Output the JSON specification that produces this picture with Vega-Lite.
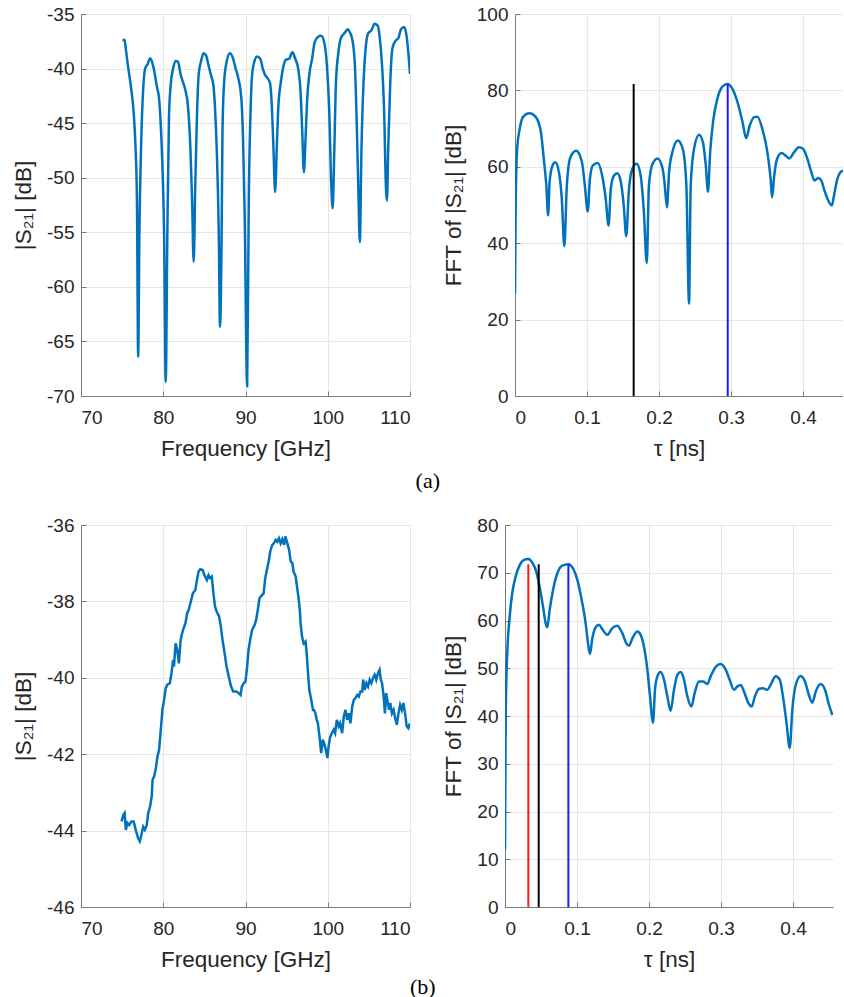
{
  "$schema": "https://vega.github.io/schema/vega-lite/v6.json",
  "padding": {"left": 12, "top": 5, "right": 0, "bottom": 0},
  "background": "white",
  "config": {
    "view": {"stroke": null},
    "axis": {
      "labelFont": "Liberation Sans",
      "titleFont": "Liberation Sans",
      "labelFontSize": 19,
      "titleFontSize": 22.5,
      "titleFontWeight": "normal",
      "labelColor": "#262626",
      "titleColor": "#262626",
      "domainColor": "#7a7a7a",
      "domainWidth": 1,
      "tickColor": "#7a7a7a",
      "tickSize": -5,
      "gridColor": "#e6e6e6",
      "gridWidth": 1,
      "labelExpr": "'' + datum.value"
    },
    "axisX": {"labelPadding": 17, "titlePadding": 10},
    "axisY": {"labelPadding": 12, "titlePadding": 11},
    "title": {"font": "Liberation Serif", "fontSize": 22, "fontWeight": "normal", "color": "#000000"}
  },
  "datasets": {
    "s21a": [
      {"f":75.04,"v":-37.35},{"f":75.3,"v":-37.4},{"f":75.45,"v":-38.2},{"f":75.7,"v":-39.7},{"f":76.05,"v":-41.55},{"f":76.4,"v":-44.0},{"f":76.6,"v":-46.7},{"f":76.8,"v":-51.9},{"f":76.95,"v":-66.4},{"f":77.1,"v":-55},{"f":77.3,"v":-47.3},{"f":77.5,"v":-42.8},{"f":77.8,"v":-40.0},{"f":78.1,"v":-39.6},{"f":78.4,"v":-39.05},{"f":78.6,"v":-39.3},{"f":78.9,"v":-40.2},{"f":79.2,"v":-41.55},{"f":79.5,"v":-42.8},{"f":79.7,"v":-45.2},{"f":79.9,"v":-48.9},{"f":80.1,"v":-55},{"f":80.3,"v":-68.7},{"f":80.5,"v":-55},{"f":80.7,"v":-44.3},{"f":80.9,"v":-41.55},{"f":81.2,"v":-40.0},{"f":81.5,"v":-39.3},{"f":81.8,"v":-39.4},{"f":82.1,"v":-40.5},{"f":82.4,"v":-41.25},{"f":82.7,"v":-42.0},{"f":83.0,"v":-43.4},{"f":83.3,"v":-47.3},{"f":83.5,"v":-51.9},{"f":83.7,"v":-57.7},{"f":83.9,"v":-50.4},{"f":84.1,"v":-44.3},{"f":84.3,"v":-40.6},{"f":84.6,"v":-39.3},{"f":84.9,"v":-38.6},{"f":85.2,"v":-38.8},{"f":85.5,"v":-39.7},{"f":85.8,"v":-40.6},{"f":86.1,"v":-41.55},{"f":86.3,"v":-43.7},{"f":86.5,"v":-47.3},{"f":86.75,"v":-55},{"f":86.9,"v":-63.65},{"f":87.1,"v":-55},{"f":87.2,"v":-45.8},{"f":87.4,"v":-41.25},{"f":87.7,"v":-39.4},{"f":88.1,"v":-38.6},{"f":88.45,"v":-39.0},{"f":88.8,"v":-40.0},{"f":89.1,"v":-40.8},{"f":89.5,"v":-42.8},{"f":89.7,"v":-46.4},{"f":89.9,"v":-53.4},{"f":90.2,"v":-69.1},{"f":90.4,"v":-51.9},{"f":90.6,"v":-44.3},{"f":90.8,"v":-40.6},{"f":91.1,"v":-39.3},{"f":91.4,"v":-38.9},{"f":91.8,"v":-39.1},{"f":92.1,"v":-40.0},{"f":92.4,"v":-40.6},{"f":92.7,"v":-40.9},{"f":93.0,"v":-41.4},{"f":93.2,"v":-43.4},{"f":93.4,"v":-47.3},{"f":93.6,"v":-51.3},{"f":93.8,"v":-47.3},{"f":94.0,"v":-43.4},{"f":94.3,"v":-41.25},{"f":94.55,"v":-40.0},{"f":94.9,"v":-39.2},{"f":95.3,"v":-39.1},{"f":95.7,"v":-38.5},{"f":96.05,"v":-39.1},{"f":96.4,"v":-40.0},{"f":96.7,"v":-42.2},{"f":96.9,"v":-45.8},{"f":97.1,"v":-49.5},{"f":97.3,"v":-46.4},{"f":97.5,"v":-42.8},{"f":97.8,"v":-40.3},{"f":98.1,"v":-39.1},{"f":98.4,"v":-37.6},{"f":98.8,"v":-37.1},{"f":99.2,"v":-37.0},{"f":99.6,"v":-37.7},{"f":99.9,"v":-39.7},{"f":100.2,"v":-44.3},{"f":100.4,"v":-50.1},{"f":100.6,"v":-52.8},{"f":100.8,"v":-47.35},{"f":101.0,"v":-41.25},{"f":101.3,"v":-38.5},{"f":101.6,"v":-37.2},{"f":102.1,"v":-36.7},{"f":102.4,"v":-36.4},{"f":102.7,"v":-36.7},{"f":103.0,"v":-37.4},{"f":103.3,"v":-39.7},{"f":103.5,"v":-44.3},{"f":103.7,"v":-50.4},{"f":103.9,"v":-55.9},{"f":104.1,"v":-47.35},{"f":104.35,"v":-41.25},{"f":104.6,"v":-38.2},{"f":104.9,"v":-36.8},{"f":105.3,"v":-36.5},{"f":105.7,"v":-35.9},{"f":106.1,"v":-36.1},{"f":106.3,"v":-37.0},{"f":106.6,"v":-39.7},{"f":106.9,"v":-45.2},{"f":107.0,"v":-48.9},{"f":107.2,"v":-52.1},{"f":107.35,"v":-47.35},{"f":107.6,"v":-41.25},{"f":107.85,"v":-38.2},{"f":108.2,"v":-37.5},{"f":108.6,"v":-37.2},{"f":108.9,"v":-36.4},{"f":109.3,"v":-36.2},{"f":109.6,"v":-37.1},{"f":110.0,"v":-40.5}
    ],
    "ffta": [
      {"t":0,"v":26.8},{"t":0.001,"v":51.6},{"t":0.003,"v":64.7},{"t":0.0065,"v":69.9},{"t":0.011,"v":73.0},{"t":0.020,"v":74.0},{"t":0.029,"v":73.0},{"t":0.036,"v":69.0},{"t":0.040,"v":62.1},{"t":0.0435,"v":55.1},{"t":0.046,"v":47.3},{"t":0.048,"v":56.0},{"t":0.052,"v":60.3},{"t":0.056,"v":61.2},{"t":0.061,"v":58.6},{"t":0.065,"v":51.6},{"t":0.0685,"v":39.2},{"t":0.072,"v":55.1},{"t":0.077,"v":62.5},{"t":0.085,"v":64.2},{"t":0.093,"v":61.2},{"t":0.097,"v":55.1},{"t":0.101,"v":48.3},{"t":0.104,"v":56.8},{"t":0.108,"v":60.3},{"t":0.115,"v":61.0},{"t":0.121,"v":57.7},{"t":0.126,"v":51.6},{"t":0.130,"v":44.6},{"t":0.133,"v":54.2},{"t":0.1375,"v":57.7},{"t":0.142,"v":58.3},{"t":0.147,"v":56.0},{"t":0.151,"v":49.9},{"t":0.1545,"v":41.8},{"t":0.158,"v":53.4},{"t":0.163,"v":59.5},{"t":0.169,"v":60.8},{"t":0.1745,"v":57.7},{"t":0.179,"v":48.1},{"t":0.183,"v":34.8},{"t":0.186,"v":55.1},{"t":0.191,"v":60.8},{"t":0.198,"v":62.2},{"t":0.205,"v":59.5},{"t":0.208,"v":55.1},{"t":0.211,"v":49.4},{"t":0.214,"v":58.6},{"t":0.2185,"v":63.8},{"t":0.226,"v":66.9},{"t":0.233,"v":64.7},{"t":0.238,"v":55.1},{"t":0.2417,"v":24.2},{"t":0.244,"v":55.1},{"t":0.2486,"v":64.7},{"t":0.2556,"v":68.4},{"t":0.261,"v":66.4},{"t":0.265,"v":60.3},{"t":0.268,"v":53.5},{"t":0.271,"v":63.8},{"t":0.275,"v":71.7},{"t":0.281,"v":77.8},{"t":0.288,"v":81.0},{"t":0.295,"v":81.7},{"t":0.302,"v":80.4},{"t":0.309,"v":76.9},{"t":0.316,"v":71.7},{"t":0.321,"v":67.5},{"t":0.326,"v":70.8},{"t":0.332,"v":73.0},{"t":0.3366,"v":73.1},{"t":0.3435,"v":69.9},{"t":0.3505,"v":63.8},{"t":0.355,"v":56.8},{"t":0.357,"v":52.0},{"t":0.360,"v":57.7},{"t":0.364,"v":62.1},{"t":0.370,"v":63.6},{"t":0.376,"v":62.9},{"t":0.381,"v":62.2},{"t":0.3875,"v":63.8},{"t":0.394,"v":65.1},{"t":0.400,"v":64.7},{"t":0.406,"v":62.1},{"t":0.4115,"v":58.6},{"t":0.416,"v":56.4},{"t":0.421,"v":57.1},{"t":0.4255,"v":56.4},{"t":0.429,"v":54.2},{"t":0.434,"v":51.6},{"t":0.440,"v":49.9},{"t":0.443,"v":52.5},{"t":0.4477,"v":56.8},{"t":0.452,"v":58.6},{"t":0.4556,"v":59.0}
    ],
    "marka": [
      {"t":0.1648,"top":81.7,"c":"black"},
      {"t":0.2954,"top":81.7,"c":"blue"}
    ],
    "s21b": [
      {"f":74.92,"v":-43.76},{"f":75.16,"v":-43.58},{"f":75.3,"v":-43.54},{"f":75.45,"v":-43.98},{"f":75.65,"v":-43.8},{"f":75.85,"v":-43.85},{"f":76.14,"v":-43.76},{"f":76.4,"v":-43.76},{"f":76.7,"v":-44.02},{"f":76.95,"v":-44.2},{"f":77.15,"v":-44.28},{"f":77.35,"v":-44.1},{"f":77.56,"v":-43.9},{"f":77.76,"v":-43.98},{"f":78.0,"v":-43.85},{"f":78.17,"v":-43.54},{"f":78.4,"v":-43.37},{"f":78.6,"v":-43.1},{"f":78.7,"v":-42.67},{"f":78.9,"v":-42.58},{"f":79.1,"v":-42.36},{"f":79.3,"v":-42.06},{"f":79.5,"v":-41.88},{"f":79.7,"v":-41.36},{"f":79.9,"v":-40.84},{"f":80.1,"v":-40.58},{"f":80.3,"v":-40.27},{"f":80.5,"v":-40.18},{"f":80.8,"v":-40.14},{"f":81.0,"v":-39.88},{"f":81.2,"v":-39.53},{"f":81.3,"v":-39.71},{"f":81.5,"v":-39.1},{"f":81.7,"v":-39.27},{"f":81.9,"v":-39.62},{"f":82.1,"v":-39.05},{"f":82.2,"v":-38.92},{"f":82.4,"v":-38.75},{"f":82.7,"v":-38.57},{"f":82.9,"v":-38.31},{"f":83.1,"v":-38.22},{"f":83.3,"v":-38.05},{"f":83.6,"v":-37.79},{"f":83.9,"v":-37.7},{"f":84.1,"v":-37.44},{"f":84.3,"v":-37.22},{"f":84.5,"v":-37.16},{"f":84.8,"v":-37.18},{"f":85.0,"v":-37.31},{"f":85.3,"v":-37.44},{"f":85.5,"v":-37.31},{"f":85.7,"v":-37.39},{"f":85.9,"v":-37.35},{"f":86.1,"v":-37.79},{"f":86.3,"v":-38.14},{"f":86.5,"v":-38.27},{"f":86.8,"v":-38.4},{"f":87.0,"v":-38.66},{"f":87.2,"v":-39.0},{"f":87.4,"v":-39.27},{"f":87.7,"v":-39.71},{"f":87.97,"v":-39.97},{"f":88.25,"v":-40.23},{"f":88.5,"v":-40.36},{"f":88.9,"v":-40.36},{"f":89.1,"v":-40.39},{"f":89.4,"v":-40.45},{"f":89.55,"v":-40.23},{"f":89.8,"v":-40.14},{"f":90.0,"v":-40.1},{"f":90.2,"v":-39.71},{"f":90.37,"v":-39.27},{"f":90.57,"v":-39.0},{"f":90.8,"v":-38.75},{"f":91.1,"v":-38.62},{"f":91.3,"v":-38.48},{"f":91.5,"v":-38.22},{"f":91.7,"v":-37.92},{"f":91.9,"v":-37.86},{"f":92.2,"v":-37.79},{"f":92.4,"v":-37.39},{"f":92.6,"v":-37.18},{"f":92.85,"v":-36.92},{"f":93.0,"v":-36.7},{"f":93.25,"v":-36.52},{"f":93.45,"v":-36.48},{"f":93.66,"v":-36.39},{"f":93.86,"v":-36.44},{"f":94.07,"v":-36.35},{"f":94.27,"v":-36.48},{"f":94.47,"v":-36.37},{"f":94.7,"v":-36.52},{"f":94.84,"v":-36.3},{"f":95.04,"v":-36.44},{"f":95.3,"v":-36.65},{"f":95.5,"v":-36.96},{"f":95.7,"v":-37.0},{"f":95.85,"v":-37.22},{"f":96.1,"v":-37.35},{"f":96.26,"v":-37.61},{"f":96.46,"v":-37.92},{"f":96.6,"v":-38.22},{"f":96.7,"v":-38.57},{"f":96.87,"v":-38.92},{"f":97.07,"v":-39.1},{"f":97.3,"v":-39.05},{"f":97.44,"v":-39.36},{"f":97.6,"v":-39.88},{"f":97.76,"v":-40.32},{"f":98.0,"v":-40.58},{"f":98.2,"v":-40.84},{"f":98.33,"v":-40.84},{"f":98.5,"v":-40.93},{"f":98.66,"v":-41.1},{"f":98.8,"v":-41.19},{"f":99.0,"v":-41.54},{"f":99.2,"v":-41.97},{"f":99.4,"v":-41.62},{"f":99.55,"v":-41.71},{"f":99.76,"v":-41.88},{"f":99.96,"v":-42.1},{"f":100.1,"v":-41.8},{"f":100.3,"v":-41.54},{"f":100.5,"v":-41.45},{"f":100.73,"v":-41.36},{"f":100.9,"v":-41.45},{"f":101.1,"v":-41.1},{"f":101.34,"v":-41.27},{"f":101.5,"v":-41.19},{"f":101.75,"v":-41.45},{"f":101.95,"v":-41.01},{"f":102.15,"v":-40.84},{"f":102.36,"v":-41.1},{"f":102.56,"v":-40.93},{"f":102.76,"v":-41.19},{"f":102.97,"v":-40.75},{"f":103.17,"v":-40.58},{"f":103.37,"v":-40.53},{"f":103.58,"v":-40.45},{"f":103.78,"v":-40.49},{"f":103.98,"v":-40.36},{"f":104.2,"v":-40.36},{"f":104.3,"v":-40.05},{"f":104.5,"v":-40.32},{"f":104.7,"v":-40.14},{"f":104.9,"v":-40.23},{"f":105.1,"v":-40.05},{"f":105.3,"v":-40.14},{"f":105.5,"v":-40.01},{"f":105.7,"v":-39.92},{"f":105.9,"v":-40.05},{"f":106.1,"v":-39.88},{"f":106.3,"v":-39.79},{"f":106.45,"v":-40.05},{"f":106.6,"v":-40.14},{"f":106.8,"v":-40.49},{"f":106.95,"v":-40.93},{"f":107.1,"v":-40.4},{"f":107.3,"v":-40.66},{"f":107.45,"v":-40.84},{"f":107.6,"v":-40.66},{"f":107.8,"v":-40.93},{"f":108.0,"v":-40.84},{"f":108.2,"v":-41.06},{"f":108.4,"v":-41.23},{"f":108.6,"v":-40.93},{"f":108.8,"v":-40.71},{"f":109.0,"v":-40.84},{"f":109.2,"v":-40.66},{"f":109.4,"v":-40.93},{"f":109.6,"v":-41.27},{"f":109.8,"v":-41.32},{"f":110.0,"v":-41.19}
    ],
    "fftb": [
      {"t":0,"v":12.0},{"t":0.0005,"v":27.3},{"t":0.001,"v":39.9},{"t":0.002,"v":48.3},{"t":0.0037,"v":55.2},{"t":0.0065,"v":60.8},{"t":0.010,"v":65.7},{"t":0.0148,"v":69.2},{"t":0.0204,"v":71.6},{"t":0.0264,"v":72.7},{"t":0.0324,"v":72.9},{"t":0.038,"v":72.1},{"t":0.0435,"v":70.2},{"t":0.048,"v":67.1},{"t":0.0528,"v":62.9},{"t":0.0565,"v":59.4},{"t":0.0588,"v":58.6},{"t":0.062,"v":62.2},{"t":0.0667,"v":66.4},{"t":0.0727,"v":69.9},{"t":0.0796,"v":71.5},{"t":0.088,"v":71.8},{"t":0.0944,"v":70.9},{"t":0.1005,"v":68.5},{"t":0.1065,"v":64.3},{"t":0.112,"v":59.4},{"t":0.1153,"v":55.2},{"t":0.118,"v":53.0},{"t":0.1213,"v":56.3},{"t":0.126,"v":58.6},{"t":0.1306,"v":59.1},{"t":0.135,"v":58.2},{"t":0.142,"v":57.0},{"t":0.149,"v":58.4},{"t":0.156,"v":58.9},{"t":0.163,"v":57.3},{"t":0.1685,"v":55.2},{"t":0.172,"v":54.7},{"t":0.177,"v":56.3},{"t":0.1838,"v":57.7},{"t":0.1884,"v":57.0},{"t":0.193,"v":54.5},{"t":0.1977,"v":49.7},{"t":0.2014,"v":44.1},{"t":0.2056,"v":38.6},{"t":0.2083,"v":45.5},{"t":0.2116,"v":48.3},{"t":0.2162,"v":49.2},{"t":0.2208,"v":47.6},{"t":0.2255,"v":44.1},{"t":0.230,"v":41.1},{"t":0.2347,"v":45.5},{"t":0.2394,"v":48.6},{"t":0.244,"v":49.2},{"t":0.2486,"v":47.6},{"t":0.2532,"v":44.1},{"t":0.2588,"v":42.0},{"t":0.2634,"v":44.8},{"t":0.2694,"v":47.2},{"t":0.275,"v":47.2},{"t":0.281,"v":46.7},{"t":0.2856,"v":48.3},{"t":0.2926,"v":50.3},{"t":0.2995,"v":50.9},{"t":0.3065,"v":49.7},{"t":0.312,"v":47.6},{"t":0.318,"v":45.5},{"t":0.3227,"v":46.2},{"t":0.3273,"v":46.5},{"t":0.332,"v":45.1},{"t":0.338,"v":42.7},{"t":0.3426,"v":42.0},{"t":0.347,"v":44.1},{"t":0.3528,"v":45.7},{"t":0.3583,"v":45.8},{"t":0.3644,"v":45.5},{"t":0.370,"v":46.9},{"t":0.376,"v":48.3},{"t":0.3815,"v":47.6},{"t":0.386,"v":44.1},{"t":0.391,"v":38.5},{"t":0.3954,"v":33.3},{"t":0.399,"v":41.3},{"t":0.4037,"v":46.5},{"t":0.4106,"v":48.4},{"t":0.4167,"v":47.2},{"t":0.422,"v":44.4},{"t":0.4268,"v":42.8},{"t":0.4315,"v":45.1},{"t":0.4384,"v":46.7},{"t":0.4444,"v":45.5},{"t":0.450,"v":42.3},{"t":0.4546,"v":40.2}
    ],
    "markb": [
      {"t":0.0324,"top":71.8,"c":"red"},
      {"t":0.0468,"top":71.8,"c":"black"},
      {"t":0.088,"top":71.8,"c":"blue"}
    ]
  },
  "spacing": 24,
  "vconcat": [
    {
      "title": {"text": "(a)", "orient": "bottom", "anchor": "middle", "offset": 11},
      "spacing": 31,
      "hconcat": [
        {
          "width": 329, "height": 382,
          "data": {"name": "s21a"},
          "mark": {"type": "line", "color": "#0072BD", "strokeWidth": 2.5, "clip": true, "interpolate": "monotone"},
          "encoding": {
            "x": {"field": "f", "type": "quantitative", "title": "Frequency [GHz]",
                  "scale": {"domain": [70, 110], "nice": false, "zero": false},
                  "axis": {"values": [70, 80, 90, 100, 110]}},
            "y": {"field": "v", "type": "quantitative", "title": "|S₂₁| [dB]",
                  "scale": {"domain": [-70, -35], "nice": false, "zero": false},
                  "axis": {"values": [-70, -65, -60, -55, -50, -45, -40, -35]}}
          }
        },
        {
          "width": 328, "height": 382,
          "layer": [
            {
              "data": {"name": "ffta"},
              "mark": {"type": "line", "color": "#0072BD", "strokeWidth": 2.5, "clip": true, "interpolate": "monotone"},
              "encoding": {
                "x": {"field": "t", "type": "quantitative", "title": "τ [ns]",
                      "scale": {"domain": [0, 0.4555], "nice": false, "zero": false},
                      "axis": {"values": [0, 0.1, 0.2, 0.3, 0.4]}},
                "y": {"field": "v", "type": "quantitative", "title": "FFT of |S₂₁| [dB]",
                      "scale": {"domain": [0, 100], "nice": false},
                      "axis": {"values": [0, 20, 40, 60, 80, 100]}}
              }
            },
            {
              "data": {"name": "marka"},
              "mark": {"type": "rule", "strokeWidth": 2},
              "encoding": {
                "x": {"field": "t", "type": "quantitative"},
                "y": {"field": "top", "type": "quantitative"},
                "y2": {"datum": 0},
                "color": {"field": "c", "type": "nominal", "legend": null,
                          "scale": {"domain": ["black", "blue", "red"], "range": ["#000000", "#1a1aff", "#ff1a1a"]}}
              }
            }
          ]
        }
      ]
    },
    {
      "title": {"text": "(b)", "orient": "bottom", "anchor": "middle", "offset": 6},
      "spacing": 31,
      "hconcat": [
        {
          "width": 329, "height": 382,
          "data": {"name": "s21b"},
          "mark": {"type": "line", "color": "#0072BD", "strokeWidth": 2.5, "clip": true},
          "encoding": {
            "x": {"field": "f", "type": "quantitative", "title": "Frequency [GHz]",
                  "scale": {"domain": [70, 110], "nice": false, "zero": false},
                  "axis": {"values": [70, 80, 90, 100, 110]}},
            "y": {"field": "v", "type": "quantitative", "title": "|S₂₁| [dB]",
                  "scale": {"domain": [-46, -36], "nice": false, "zero": false},
                  "axis": {"values": [-46, -44, -42, -40, -38, -36]}}
          }
        },
        {
          "width": 328, "height": 382,
          "layer": [
            {
              "data": {"name": "fftb"},
              "mark": {"type": "line", "color": "#0072BD", "strokeWidth": 2.5, "clip": true, "interpolate": "monotone"},
              "encoding": {
                "x": {"field": "t", "type": "quantitative", "title": "τ [ns]",
                      "scale": {"domain": [0, 0.4555], "nice": false, "zero": false},
                      "axis": {"values": [0, 0.1, 0.2, 0.3, 0.4]}},
                "y": {"field": "v", "type": "quantitative", "title": "FFT of |S₂₁| [dB]",
                      "scale": {"domain": [0, 80], "nice": false},
                      "axis": {"values": [0, 10, 20, 30, 40, 50, 60, 70, 80]}}
              }
            },
            {
              "data": {"name": "markb"},
              "mark": {"type": "rule", "strokeWidth": 2},
              "encoding": {
                "x": {"field": "t", "type": "quantitative"},
                "y": {"field": "top", "type": "quantitative"},
                "y2": {"datum": 0},
                "color": {"field": "c", "type": "nominal", "legend": null,
                          "scale": {"domain": ["black", "blue", "red"], "range": ["#000000", "#1a1aff", "#ff1a1a"]}}
              }
            }
          ]
        }
      ]
    }
  ]
}
